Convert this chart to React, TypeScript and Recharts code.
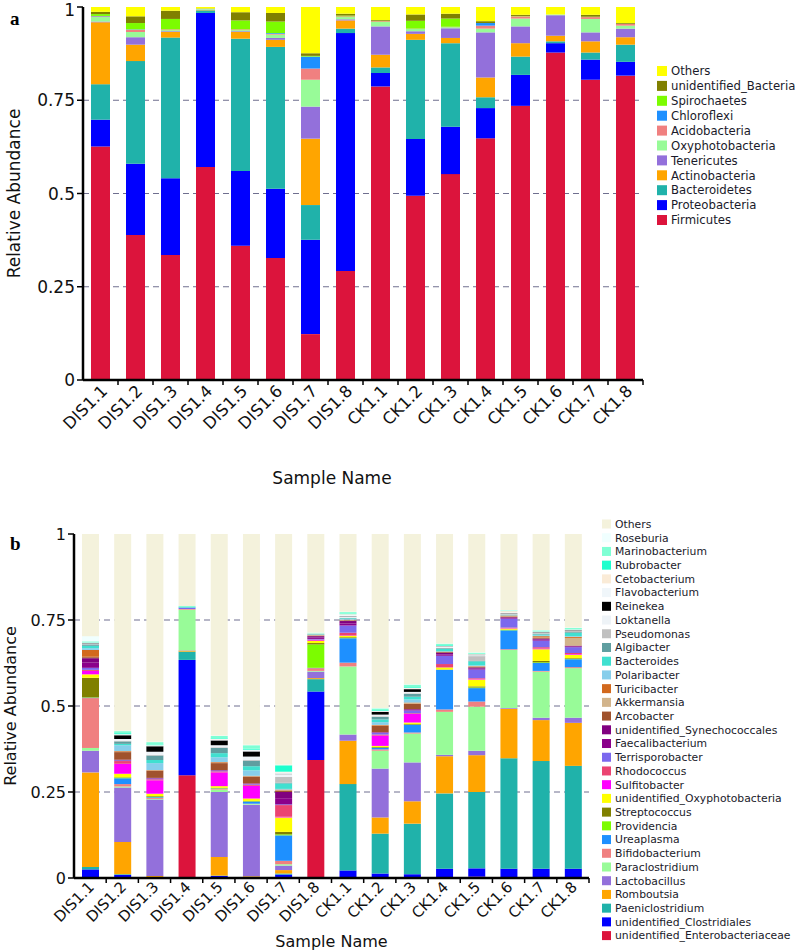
import React from "react";
import { BarChart, Bar, XAxis, YAxis, CartesianGrid } from "recharts";

const FONT = "'DejaVu Sans', sans-serif";

const samples = [
  "DIS1.1", "DIS1.2", "DIS1.3", "DIS1.4", "DIS1.5", "DIS1.6", "DIS1.7", "DIS1.8",
  "CK1.1", "CK1.2", "CK1.3", "CK1.4", "CK1.5", "CK1.6", "CK1.7", "CK1.8",
];
const yTicks = [0, 0.25, 0.5, 0.75, 1];
const gridValues = [0.25, 0.5, 0.75];

// (a) phylum level, listed bottom of the stack -> top
const phylumNames = [
  "Firmicutes", "Proteobacteria", "Bacteroidetes", "Actinobacteria", "Tenericutes",
  "Oxyphotobacteria", "Acidobacteria", "Chloroflexi", "Spirochaetes", "unidentified_Bacteria", "Others",
];
const phylumColors = [
  "#DC143C", "#0000FF", "#20B2AA", "#FFA500", "#9370DB",
  "#98FB98", "#F08080", "#1E90FF", "#7CFC00", "#808000", "#FFFF00",
];

const phylumDIS1_1 = [0.626, 0.072, 0.095, 0.166, 0.002, 0.012, 0.002, 0.001, 0.005, 0.006, 0.013];
const phylumDIS1_2 = [0.389, 0.191, 0.275, 0.044, 0.02, 0.014, 0.006, 0.001, 0.017, 0.018, 0.025];
const phylumDIS1_3 = [0.335, 0.206, 0.377, 0.015, 0.002, 0.003, 0.002, 0, 0.028, 0.022, 0.01];
const phylumDIS1_4 = [0.571, 0.413, 0.007, 0.001, 0.001, 0.002, 0, 0, 0, 0.001, 0.004];
const phylumDIS1_5 = [0.36, 0.2, 0.355, 0.018, 0.002, 0.003, 0.002, 0, 0.024, 0.022, 0.014];
const phylumDIS1_6 = [0.327, 0.186, 0.38, 0.019, 0.005, 0.009, 0.002, 0.002, 0.031, 0.023, 0.016];
const phylumDIS1_7 = [0.123, 0.253, 0.093, 0.178, 0.086, 0.072, 0.03, 0.032, 0.002, 0.007, 0.124];
const phylumDIS1_8 = [0.292, 0.638, 0.012, 0.022, 0.003, 0.006, 0.002, 0, 0.002, 0.005, 0.018];
const phylumCK1_1 = [0.787, 0.036, 0.015, 0.034, 0.076, 0.012, 0.002, 0, 0.001, 0.002, 0.035];
const phylumCK1_2 = [0.494, 0.152, 0.266, 0.016, 0.007, 0.006, 0.001, 0, 0.021, 0.017, 0.02];
const phylumCK1_3 = [0.552, 0.127, 0.224, 0.014, 0.026, 0.003, 0.001, 0, 0.022, 0.013, 0.018];
const phylumCK1_4 = [0.648, 0.081, 0.029, 0.053, 0.121, 0.01, 0.008, 0.007, 0, 0.005, 0.038];
const phylumCK1_5 = [0.735, 0.083, 0.049, 0.036, 0.045, 0.021, 0.006, 0, 0.001, 0.003, 0.021];
const phylumCK1_6 = [0.878, 0.025, 0.005, 0.015, 0.055, 0.002, 0, 0, 0, 0, 0.02];
const phylumCK1_7 = [0.805, 0.054, 0.019, 0.03, 0.024, 0.036, 0.005, 0, 0.001, 0.005, 0.021];
const phylumCK1_8 = [0.816, 0.037, 0.046, 0.02, 0.023, 0.008, 0.005, 0, 0, 0.002, 0.043];

const phylumRows = [
  phylumDIS1_1, phylumDIS1_2, phylumDIS1_3, phylumDIS1_4, phylumDIS1_5, phylumDIS1_6, phylumDIS1_7, phylumDIS1_8,
  phylumCK1_1, phylumCK1_2, phylumCK1_3, phylumCK1_4, phylumCK1_5, phylumCK1_6, phylumCK1_7, phylumCK1_8,
];

// (b) genus level, listed bottom of the stack -> top
const genusNames = [
  "unidentified_Enterobacteriaceae", "unidentified_Clostridiales", "Paeniclostridium", "Romboutsia",
  "Lactobacillus", "Paraclostridium", "Bifidobacterium", "Ureaplasma", "Providencia", "Streptococcus",
  "unidentified_Oxyphotobacteria", "Sulfitobacter", "Rhodococcus", "Terrisporobacter", "Faecalibacterium",
  "unidentified_Synechococcales", "Arcobacter", "Akkermansia", "Turicibacter", "Polaribacter", "Bacteroides",
  "Algibacter", "Pseudomonas", "Loktanella", "Reinekea", "Flavobacterium", "Cetobacterium", "Rubrobacter",
  "Marinobacterium", "Roseburia", "Others",
];
const genusColors = [
  "#DC143C", "#0000FF", "#20B2AA", "#FFA500",
  "#9370DB", "#98FB98", "#F08080", "#1E90FF", "#7CFC00", "#808000",
  "#FFFF00", "#FF00FF", "#EB4471", "#7B68EE", "#8B008B",
  "#800080", "#A0522D", "#D2B48C", "#D2691E", "#87CEEB", "#40E0D0",
  "#5F9EA0", "#C0C0C0", "#EEF3F7", "#000000", "#F0F6FA", "#FAEBD7", "#1CFFCE",
  "#7FFFD4", "#F0FFFF", "#F4F2DC",
];

const genusDIS1_1 = [0.002, 0.023, 0.007, 0.275, 0.063, 0.008, 0.145, 0.001, 0.001, 0.057, 0.01, 0.01, 0.003, 0.006, 0.015, 0.013, 0.003, 0.001, 0.02, 0.005, 0.007, 0.004, 0.001, 0.002, 0.001, 0.001, 0.001, 0.001, 0.002, 0.015, 0.297];
const genusDIS1_2 = [0.001, 0.008, 0.002, 0.094, 0.158, 0.003, 0.007, 0.017, 0.002, 0.001, 0.01, 0.029, 0.008, 0.002, 0.001, 0.001, 0.022, 0.001, 0.002, 0.017, 0.004, 0.007, 0.002, 0.005, 0.011, 0.002, 0.001, 0.003, 0.006, 0.001, 0.572];
const genusDIS1_3 = [0.001, 0.001, 0.001, 0.003, 0.222, 0.002, 0.003, 0.002, 0.001, 0.002, 0.007, 0.039, 0.003, 0.002, 0.001, 0.001, 0.021, 0.001, 0.001, 0.02, 0.009, 0.013, 0.002, 0.009, 0.016, 0.002, 0.001, 0.002, 0.007, 0.001, 0.604];
const genusDIS1_4 = [0.299, 0.335, 0.024, 0.003, 0.001, 0.118, 0.002, 0, 0, 0, 0, 0, 0, 0.004, 0, 0, 0, 0, 0, 0, 0.002, 0, 0, 0, 0, 0, 0, 0, 0.003, 0, 0.209];
const genusDIS1_5 = [0.001, 0.005, 0.001, 0.054, 0.189, 0.007, 0.002, 0.001, 0.001, 0.001, 0.005, 0.04, 0.003, 0.002, 0.001, 0.001, 0.02, 0.001, 0.002, 0.014, 0.012, 0.015, 0.002, 0.006, 0.014, 0.003, 0.001, 0.002, 0.007, 0.001, 0.586];
const genusDIS1_6 = [0.001, 0.001, 0.001, 0.002, 0.208, 0.002, 0.001, 0.006, 0.001, 0.001, 0.007, 0.037, 0.003, 0.002, 0.001, 0.001, 0.02, 0.001, 0.001, 0.016, 0.012, 0.016, 0.002, 0.01, 0.015, 0.004, 0.001, 0.003, 0.01, 0.001, 0.613];
const genusDIS1_7 = [0.003, 0.007, 0.003, 0.01, 0.013, 0.004, 0.01, 0.074, 0.003, 0.007, 0.042, 0.002, 0.034, 0.002, 0.018, 0.018, 0.004, 0.001, 0.002, 0.002, 0.016, 0.002, 0.017, 0.008, 0.001, 0.004, 0.002, 0.018, 0.002, 0.001, 0.67];
const genusDIS1_8 = [0.343, 0.199, 0.036, 0.003, 0.019, 0.002, 0.008, 0.001, 0.068, 0.004, 0.006, 0.002, 0.002, 0.002, 0.004, 0.004, 0.001, 0.001, 0.001, 0.001, 0.001, 0.001, 0.001, 0, 0, 0, 0.001, 0, 0.002, 0.001, 0.286];
const genusCK1_1 = [0.001, 0.021, 0.251, 0.126, 0.018, 0.198, 0.011, 0.071, 0.001, 0.002, 0.004, 0.001, 0.008, 0.021, 0.006, 0.007, 0.002, 0.001, 0.001, 0.002, 0.002, 0.001, 0.001, 0.003, 0.001, 0.004, 0.002, 0.001, 0.005, 0.001, 0.226];
const genusCK1_2 = [0.001, 0.012, 0.116, 0.047, 0.142, 0.052, 0.004, 0.004, 0.001, 0.002, 0.003, 0.03, 0.003, 0.005, 0.001, 0.001, 0.018, 0.001, 0.002, 0.008, 0.008, 0.007, 0.002, 0.005, 0.008, 0.002, 0.001, 0.002, 0.005, 0.001, 0.506];
const genusCK1_3 = [0.001, 0.01, 0.147, 0.065, 0.113, 0.084, 0.003, 0.022, 0.001, 0.002, 0.004, 0.025, 0.002, 0.008, 0.002, 0.002, 0.015, 0.002, 0.002, 0.009, 0.008, 0.008, 0.002, 0.004, 0.008, 0.002, 0.002, 0.002, 0.007, 0.001, 0.437];
const genusCK1_4 = [0.001, 0.026, 0.219, 0.108, 0.004, 0.125, 0.007, 0.115, 0, 0.001, 0.006, 0, 0.01, 0.024, 0.004, 0.005, 0.002, 0, 0.001, 0.001, 0.007, 0.002, 0.001, 0.003, 0.001, 0.001, 0.001, 0.002, 0.004, 0.001, 0.318];
const genusCK1_5 = [0.004, 0.024, 0.222, 0.107, 0.013, 0.128, 0.015, 0.039, 0.002, 0.003, 0.02, 0.002, 0.002, 0.025, 0.003, 0.003, 0.002, 0.001, 0.001, 0.002, 0.012, 0.001, 0.014, 0.003, 0.001, 0.001, 0.001, 0.001, 0.003, 0.001, 0.344];
const genusCK1_6 = [0.001, 0.026, 0.321, 0.144, 0.002, 0.169, 0.002, 0.055, 0.001, 0.001, 0.003, 0.001, 0.002, 0.026, 0.002, 0.002, 0.002, 0.001, 0.002, 0.001, 0.001, 0.001, 0.001, 0.002, 0.001, 0.002, 0.004, 0.001, 0.001, 0.001, 0.221];
const genusCK1_7 = [0.001, 0.026, 0.313, 0.119, 0.007, 0.134, 0.002, 0.023, 0.002, 0.004, 0.034, 0.002, 0.004, 0.019, 0.003, 0.003, 0.002, 0.001, 0.004, 0.002, 0.003, 0.002, 0.002, 0.002, 0.001, 0.001, 0.001, 0.001, 0.002, 0.001, 0.279];
const genusCK1_8 = [0.001, 0.026, 0.299, 0.125, 0.015, 0.144, 0.003, 0.023, 0.001, 0.002, 0.01, 0.002, 0.003, 0.017, 0.002, 0.002, 0.001, 0.022, 0.003, 0.002, 0.01, 0.002, 0.004, 0.001, 0.001, 0.001, 0.001, 0.001, 0.003, 0.001, 0.272];

const genusRows = [
  genusDIS1_1, genusDIS1_2, genusDIS1_3, genusDIS1_4, genusDIS1_5, genusDIS1_6, genusDIS1_7, genusDIS1_8,
  genusCK1_1, genusCK1_2, genusCK1_3, genusCK1_4, genusCK1_5, genusCK1_6, genusCK1_7, genusCK1_8,
];

const buildData = (names: string[], rows: number[][]) =>
  samples.map((sample, i) => {
    const row: Record<string, string | number> = { sample };
    names.forEach((n, j) => {
      row[n] = rows[i][j];
    });
    return row;
  });

const phylumData = buildData(phylumNames, phylumRows);
const genusData = buildData(genusNames, genusRows);

interface TickProps {
  x?: number;
  y?: number;
  payload?: { value: string };
  band: number;
  fontSize: number;
  dx: number;
  dy: number;
}

const SampleTick = ({ x = 0, y = 0, payload, band, fontSize, dx, dy }: TickProps) => (
  <g transform={`translate(${x},${y})`}>
    <line x1={band / 2} y1={0} x2={band / 2} y2={5} stroke="#000" strokeWidth={1.5} />
    <text
      transform={`translate(${dx},${dy}) rotate(-45)`}
      textAnchor="end"
      fontSize={fontSize}
      fontFamily={FONT}
      fill="#111"
    >
      {payload?.value}
    </text>
  </g>
);

interface PanelProps {
  data: Record<string, string | number>[];
  names: string[];
  colors: string[];
  height: number;
  margin: { top: number; right: number; bottom: number; left: number };
  yAxisWidth: number;
  xAxisHeight: number;
  barSize: number;
  fontSize: number;
  tickFont: number;
  tickDx: number;
  tickDy: number;
  yLabelOffset: number;
  xLabelOffset: number;
  xLabelDx: number;
}

const StackPanel = (p: PanelProps) => {
  const plotWidth = 797 - p.margin.right - p.margin.left - p.yAxisWidth;
  const band = plotWidth / samples.length;
  return (
    <BarChart width={797} height={p.height} data={p.data} margin={p.margin} barSize={p.barSize}>
      <CartesianGrid
        vertical={false}
        horizontalValues={gridValues}
        stroke="#6f6f8f"
        strokeDasharray="6 4"
        strokeWidth={1}
      />
      <XAxis
        dataKey="sample"
        interval={0}
        height={p.xAxisHeight}
        tickLine={false}
        tickSize={0}
        tickMargin={0}
        axisLine={{ stroke: "#000", strokeWidth: 2.5 }}
        tick={(t: any) => (
          <SampleTick {...t} band={band} fontSize={p.tickFont} dx={p.tickDx} dy={p.tickDy} />
        )}
        label={{
          value: "Sample Name",
          position: "insideBottom",
          offset: p.xLabelOffset,
          dx: p.xLabelDx,
          style: { fontSize: p.fontSize, fontFamily: FONT, fill: "#111" },
        }}
      />
      <YAxis
        width={p.yAxisWidth}
        domain={[0, 1]}
        ticks={yTicks}
        tickFormatter={(v: number) => String(v)}
        tickSize={6}
        tickMargin={2}
        tickLine={{ stroke: "#000", strokeWidth: 1.5 }}
        axisLine={{ stroke: "#000", strokeWidth: 2.5 }}
        tick={{ fontSize: p.fontSize, fontFamily: FONT, fill: "#111" }}
        label={{
          value: "Relative Abundance",
          angle: -90,
          position: "insideLeft",
          offset: p.yLabelOffset,
          style: { textAnchor: "middle", fontSize: p.fontSize, fontFamily: FONT, fill: "#111" },
        }}
      />
      {p.names.map((n, i) => (
        <Bar key={n} dataKey={n} stackId="s" fill={p.colors[i]} isAnimationActive={false} />
      ))}
    </BarChart>
  );
};

interface LegendProps {
  names: string[];
  colors: string[];
  x: number;
  y: number;
  step: number;
  box: number;
  fontSize: number;
}

// legend lists the top of the stack first
const StackLegend = ({ names, colors, x, y, step, box, fontSize }: LegendProps) => {
  const order = names.map((_, i) => i).reverse();
  return (
    <g>
      {order.map((idx, k) => (
        <g key={names[idx]} transform={`translate(${x},${y + k * step})`}>
          <rect x={0} y={-box / 2} width={box} height={box} fill={colors[idx]} />
          <text x={box + 4} y={0} dy="0.36em" fontSize={fontSize} fontFamily={FONT} fill="#1a1a2a">
            {names[idx]}
          </text>
        </g>
      ))}
    </g>
  );
};

export default function App() {
  return (
    <div style={{ position: "absolute", left: 0, top: 0, width: 797, height: 951, background: "#fff" }}>
      <div style={{ position: "absolute", left: 0, top: 0 }}>
        <StackPanel
          data={phylumData}
          names={phylumNames}
          colors={phylumColors}
          height={500}
          margin={{ top: 7, right: 154, bottom: 0, left: 0 }}
          yAxisWidth={83}
          xAxisHeight={120}
          barSize={19}
          fontSize={17}
          tickFont={16.5}
          tickDx={8}
          tickDy={12}
          yLabelOffset={14}
          xLabelOffset={16}
          xLabelDx={-31}
        />
      </div>
      <div style={{ position: "absolute", left: 0, top: 480 }}>
        <StackPanel
          data={genusData}
          names={genusNames}
          colors={genusColors}
          height={471}
          margin={{ top: 54, right: 208, bottom: 0, left: 0 }}
          yAxisWidth={74}
          xAxisHeight={73}
          barSize={17}
          fontSize={16}
          tickFont={15}
          tickDx={5}
          tickDy={10}
          yLabelOffset={10}
          xLabelOffset={4}
          xLabelDx={0}
        />
      </div>
      <svg width={797} height={951} style={{ position: "absolute", left: 0, top: 0, pointerEvents: "none" }}>
        <text x={10} y={25} fontSize={19} fontWeight="bold" fontFamily="'Liberation Serif', serif">a</text>
        <text x={10} y={550} fontSize={19} fontWeight="bold" fontFamily="'Liberation Serif', serif">b</text>
        <StackLegend names={phylumNames} colors={phylumColors} x={657} y={71} step={14.9} box={10} fontSize={11.7} />
        <StackLegend names={genusNames} colors={genusColors} x={602} y={524} step={13.72} box={9} fontSize={10.8} />
      </svg>
    </div>
  );
}
